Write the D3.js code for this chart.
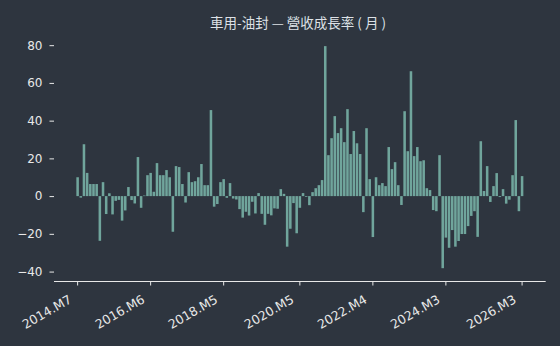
<!DOCTYPE html>
<html>
<head>
<meta charset="utf-8">
<style>
  body{
    margin: 0;
    background: #2e353f;
  }
  text{
    font-family: 'DejaVu Sans', sans-serif;
  }
</style>
</head>
<body>
  <svg id='svgVis'></svg>

<script src="https://cdn.jsdelivr.net/npm/d3@7/dist/d3.min.js"></script>
<script>

var titleText = "車用-油封 — 營收成長率 ( 月 )";

var startYear = 2014, startMonth = 7;

// monthly revenue growth, % (2014.M7 .. 2026.M3)
var growth = [
  10, -0.8, 27.5, 12.3, 6.4, 6.4, 6.4, -23.7, 7.4, -9.5,
  1.5, -9.7, -2.5, -2, -13, -7.6, 4.8, -2.1, -3.9, 20.7,
  -6.2, 0.3, 11.1, 12.3, 2.3, 17.5, 11.1, 11.1, 13.8, 10,
  -18.9, 15.9, 15.4, 6.4, -3.4, 12.7, 7.4, 7.9, 10, 17,
  5.8, 5.8, 45.6, -5.6, -4.2, 7.4, 9, -0.9, 6.9, -1.3,
  -1.8, -6.9, -11.4, -8.3, -10.3, -3, -9.2, 1.6, -9.4, -15.2,
  -9.4, -10.2, -6.5, -6.7, 3.7, 1.2, -26.8, -17.3, -3.7, -19.7,
  -6.2, 1.6, -0.4, -4.8, 2.1, 4.2, 5.8, 8.5, 79.5, 21.7,
  30.7, 42.4, 33.4, 36, 28.6, 46.1, 22.3, 34.5, 28, 22.3,
  -8.5, 36, 9, -21.7, 10, 5.8, 6.9, 5.3, 26, 14.3,
  18, 5.8, -4.7, 45, 23.8, 66.2, 21.2, 26, 18.5, 19,
  4.2, 3.2, -7.4, -8, 21.7, -38.2, -22, -27.4, -18, -26.8,
  -23.8, -20.1, -20.1, -15.9, -10.5, -8, -21.6, 29.1, 2.7, 15.9,
  -3.1, 5.3, 12.2, -0.5, 3.7, -4, -1.9, 11.1, 40.3, -8,
  10.6
];

var xTickLabels = ["2014.M7", "2016.M6", "2018.M5", "2020.M5", "2022.M4", "2024.M3", "2026.M3"];
var yTickValues = [-40, -20, 0, 20, 40, 60, 80];

// month labels for each bar
var months = [];
for (var i = 0; i < growth.length; i++) {
  var m = startMonth - 1 + i;
  months.push((startYear + Math.floor(m / 12)) + ".M" + (m % 12 + 1));
}

var width = 560, height = 346;
var plot = {left: 54, right: 545.7, top: 35, bottom: 281};

var svg = d3.select("#svgVis")
    .attr("width", width)
    .attr("height", height);

var x = d3.scaleBand()
    .domain(months)
    .range([plot.left, plot.right])
    .paddingInner(0.2)
    .paddingOuter(7.04);

var y = d3.scaleLinear()
    .domain([-45, 85.4])
    .range([plot.bottom, plot.top]);

svg.append("text")
    .attr("x", 298)
    .attr("y", 28)
    .attr("text-anchor", "middle")
    .style("font-family", "'Noto Sans CJK TC', sans-serif")
    .style("font-size", "13.5px")
    .style("white-space", "pre")
    .style("fill", "#dde1e6")
    .text(titleText);

svg.append("g")
  .selectAll("rect")
  .data(growth)
  .enter()
  .append("rect")
    .attr("x", function(d, i) { return x(months[i]); })
    .attr("width", x.bandwidth())
    .attr("y", function(d) { return y(Math.max(0, d)); })
    .attr("height", function(d) { return Math.abs(y(d) - y(0)); })
    .style("fill", "#70a59c");

var yAxis = svg.append("g")
    .attr("transform", "translate(" + plot.left + ",0)")
    .call(d3.axisLeft(y).tickValues(yTickValues).tickSize(4.5).tickPadding(7)
      .tickFormat(function(d) { return d < 0 ? "\u2212" + Math.abs(d) : d; }));

yAxis.select(".domain").remove();
yAxis.selectAll("line").style("stroke", "#e8e8e8");
yAxis.selectAll("text")
    .style("font-size", "12px")
    .style("fill", "#e8e8e8");

var xAxis = svg.append("g")
    .attr("transform", "translate(0," + plot.bottom + ")")
    .call(d3.axisBottom(x).tickValues(xTickLabels).tickSize(4.5).tickSizeOuter(0));

xAxis.select(".domain").style("stroke", "#e8e8e8").attr("d", "M" + plot.left + ",0.5H" + plot.right);
xAxis.selectAll("line").style("stroke", "#e8e8e8");
xAxis.selectAll("text")
    .attr("x", -5)
    .attr("y", 21)
    .attr("dy", 0)
    .attr("text-anchor", "end")
    .attr("transform", "rotate(-30,-5,21)")
    .style("font-size", "12.5px")
    .style("fill", "#e8e8e8");

</script>
</body>
</html>
